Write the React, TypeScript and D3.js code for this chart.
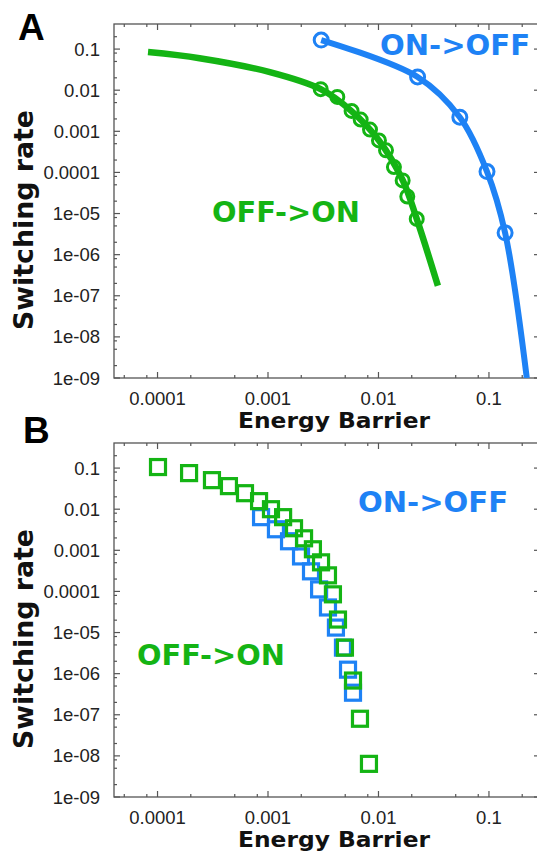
import * as d3 from 'd3';
import React, { useRef, useEffect } from 'react';

const W = 537;
const H = 858;

const green = "#14b414";
const blue = "#1e82f5";

// axis ticks
const xTicks = [1e-4, 1e-3, 1e-2, 1e-1];
const xTickLabels = ["0.0001", "0.001", "0.01", "0.1"];
const yTicks = [1e-1, 1e-2, 1e-3, 1e-4, 1e-5, 1e-6, 1e-7, 1e-8, 1e-9];
const yTickLabels = ["0.1", "0.01", "0.001", "0.0001", "1e-05", "1e-06", "1e-07", "1e-08", "1e-09"];
const minorMults = [2, 5, 8];

// panel A: fitted curves [energy barrier, switching rate]
const offOnFitA: [number, number][] = [
    [8.2e-5, 0.0845], [2.4e-4, 0.06], [1.04e-3, 0.0275], [3.0e-3, 0.0106],
    [5.7e-3, 3.1e-3], [0.0101, 6e-4], [0.0166, 6.4e-5], [0.0222, 7.4e-6], [0.0345, 1.75e-7]
];
const onOffFitA: [number, number][] = [
    [3.03e-3, 0.166], [0.0226, 0.021], [0.0545, 2.2e-3], [0.096, 1.05e-4], [0.14, 3.4e-6], [0.22, 1e-9]
];

// panel A: simulated points
const offOnCirclesA: [number, number][] = [
    [0.0030, 0.0106], [0.00424, 0.00687], [0.00571, 0.00313], [0.0069, 0.00193],
    [0.00838, 0.0011], [0.0101, 6.0e-4], [0.0117, 3.44e-4], [0.0138, 1.35e-4],
    [0.01655, 6.4e-5], [0.01823, 2.6e-5], [0.0222, 7.4e-6]
];
const onOffCirclesA: [number, number][] = [
    [3.03e-3, 0.166], [0.0226, 0.021], [0.0545, 2.2e-3], [0.096, 1.05e-4], [0.14, 3.4e-6]
];

// panel B: points
const offOnSquaresB: [number, number][] = [
    [1.01e-4, 0.106], [1.93e-4, 0.0755], [3.11e-4, 0.0509], [4.43e-4, 0.0364],
    [6.19e-4, 0.0245], [8.3e-4, 0.0157], [1.064e-3, 0.010], [1.37e-3, 6.4e-3],
    [1.72e-3, 3.44e-3], [2.12e-3, 1.96e-3], [2.55e-3, 1.06e-3], [3.02e-3, 5.1e-4],
    [3.49e-3, 2.46e-4], [3.87e-3, 8.5e-5], [4.3e-3, 2.07e-5], [4.97e-3, 4.3e-6],
    [5.88e-3, 6.8e-7], [6.8e-3, 8e-8], [8.2e-3, 6.4e-9]
];
const onOffSquaresB: [number, number][] = [
    [8.65e-4, 6.4e-3], [1.18e-3, 3.25e-3], [1.55e-3, 1.66e-3], [1.99e-3, 7.1e-4],
    [2.45e-3, 3.08e-4], [2.9e-3, 1.12e-4], [3.49e-3, 4.07e-5], [4.12e-3, 1.32e-5],
    [4.77e-3, 4.3e-6], [5.3e-3, 1.25e-6], [5.88e-3, 3.44e-7]
];

const tickFont = "'Liberation Sans', Arial, sans-serif";
const boldFont = "'DejaVu Sans', Verdana, sans-serif";

function drawPanel(svg, top, bottom, id, draw) {
    const left = 114, right = 540;
    var x = d3.scaleLog().domain([Math.pow(10, -4.394), Math.pow(10, -0.538)]).range([left, right]);
    var y = d3.scaleLog().domain([1e-9, Math.pow(10, -0.39)]).range([bottom, top]);

    const g = svg.append("g");

    g.append("clipPath").attr("id", "clip" + id)
        .append("rect")
        .attr("x", left).attr("y", top)
        .attr("width", right - left).attr("height", bottom - top);

    // frame
    g.append("rect")
        .attr("x", left).attr("y", top)
        .attr("width", right - left).attr("height", bottom - top)
        .attr("fill", "none")
        .attr("stroke", "#555")
        .attr("stroke-width", 1.3);

    // ticks on all four sides, pointing inwards
    const [xd0, xd1] = x.domain();
    const [yd0, yd1] = y.domain();
    const xMinor = [], yMinor = [];
    for (let e = -10; e <= 0; e++) {
        minorMults.forEach(m => {
            const v = m * Math.pow(10, e);
            if (v > xd0 && v < xd1) xMinor.push(v);
            if (v > yd0 && v < yd1) yMinor.push(v);
        });
    }
    const tk = g.append("g").attr("stroke", "#555").attr("stroke-width", 1.2);
    const xTickSet = xTicks.map(v => ({ v, len: 6 })).concat(xMinor.map(v => ({ v, len: 3 })));
    const yTickSet = yTicks.map(v => ({ v, len: 6 })).concat(yMinor.map(v => ({ v, len: 3 })));
    xTickSet.forEach(t => {
        tk.append("line").attr("x1", x(t.v)).attr("x2", x(t.v)).attr("y1", bottom).attr("y2", bottom - t.len);
        tk.append("line").attr("x1", x(t.v)).attr("x2", x(t.v)).attr("y1", top).attr("y2", top + t.len);
    });
    yTickSet.forEach(t => {
        tk.append("line").attr("x1", left).attr("x2", left + t.len).attr("y1", y(t.v)).attr("y2", y(t.v));
        tk.append("line").attr("x1", right).attr("x2", right - t.len).attr("y1", y(t.v)).attr("y2", y(t.v));
    });

    // tick labels
    g.append("g").selectAll("text")
        .data(yTicks)
        .join("text")
        .attr("x", 100)
        .attr("y", d => y(d) + 6.5)
        .attr("text-anchor", "end")
        .attr("font-family", tickFont)
        .attr("font-size", 18.5)
        .attr("fill", "#222")
        .text((d, i) => yTickLabels[i]);

    g.append("g").selectAll("text")
        .data(xTicks)
        .join("text")
        .attr("x", d => x(d))
        .attr("y", bottom + 27)
        .attr("text-anchor", "middle")
        .attr("font-family", tickFont)
        .attr("font-size", 18.5)
        .attr("fill", "#222")
        .text((d, i) => xTickLabels[i]);

    // axis titles
    g.append("text")
        .attr("x", 334)
        .attr("y", bottom + 50)
        .attr("text-anchor", "middle")
        .attr("font-family", boldFont)
        .attr("font-weight", "bold")
        .attr("font-size", 22)
        .attr("textLength", 192)
        .attr("lengthAdjust", "spacingAndGlyphs")
        .attr("fill", "#111")
        .text("Energy Barrier");

    const cy = (top + bottom) / 2 + 19;
    g.append("text")
        .attr("transform", "translate(33," + cy + ") rotate(-90)")
        .attr("text-anchor", "middle")
        .attr("font-family", boldFont)
        .attr("font-weight", "bold")
        .attr("font-size", 26)
        .attr("textLength", 220)
        .attr("lengthAdjust", "spacingAndGlyphs")
        .attr("fill", "#111")
        .text("Switching rate");

    const plot = g.append("g").attr("clip-path", "url(#clip" + id + ")");
    draw(plot, x, y);
}

function label(svg, text, xPos, yPos, color, len) {
    svg.append("text")
        .attr("x", xPos)
        .attr("y", yPos)
        .attr("font-family", boldFont)
        .attr("font-weight", "bold")
        .attr("font-size", 28)
        .attr("textLength", len)
        .attr("lengthAdjust", "spacingAndGlyphs")
        .attr("fill", color)
        .text(text);
}

function SwitchingChart() {
    const ref = useRef(null);

    useEffect(() => {
        const svg = d3.select(ref.current);
        svg.selectAll("*").remove();

        // panel A
        drawPanel(svg, 24, 378, "A", (plot, x, y) => {
            const line = d3.line()
                .x(d => x(d[0]))
                .y(d => y(d[1]))
                .curve(d3.curveCatmullRom.alpha(0.5));

            plot.append("path")
                .attr("d", line(offOnFitA))
                .attr("fill", "none")
                .attr("stroke", green)
                .attr("stroke-width", 6.5);
            plot.append("path")
                .attr("d", line(onOffFitA))
                .attr("fill", "none")
                .attr("stroke", blue)
                .attr("stroke-width", 6);

            plot.append("g").selectAll("circle")
                .data(offOnCirclesA)
                .join("circle")
                .attr("cx", d => x(d[0]))
                .attr("cy", d => y(d[1]))
                .attr("r", 6.5)
                .attr("fill", "none")
                .attr("stroke", green)
                .attr("stroke-width", 3);
            plot.append("g").selectAll("circle")
                .data(onOffCirclesA)
                .join("circle")
                .attr("cx", d => x(d[0]))
                .attr("cy", d => y(d[1]))
                .attr("r", 7)
                .attr("fill", "none")
                .attr("stroke", blue)
                .attr("stroke-width", 3);
        });

        // panel B
        drawPanel(svg, 443, 797, "B", (plot, x, y) => {
            const s = 15;
            plot.append("g").selectAll("rect")
                .data(onOffSquaresB)
                .join("rect")
                .attr("x", d => x(d[0]) - s / 2)
                .attr("y", d => y(d[1]) - s / 2)
                .attr("width", s).attr("height", s)
                .attr("fill", "none")
                .attr("stroke", blue)
                .attr("stroke-width", 3.2);
            plot.append("g").selectAll("rect")
                .data(offOnSquaresB)
                .join("rect")
                .attr("x", d => x(d[0]) - s / 2)
                .attr("y", d => y(d[1]) - s / 2)
                .attr("width", s).attr("height", s)
                .attr("fill", "none")
                .attr("stroke", green)
                .attr("stroke-width", 3.2);
        });

        label(svg, "ON->OFF", 380, 55, blue, 150);
        label(svg, "OFF->ON", 212, 222, green, 148);
        label(svg, "ON->OFF", 358, 512, blue, 150);
        label(svg, "OFF->ON", 137, 665, green, 148);

        // panel letters
        svg.append("text").attr("x", 18).attr("y", 40)
            .attr("font-family", "'Liberation Sans', Arial, sans-serif")
            .attr("font-weight", "bold").attr("font-size", 37).attr("fill", "#000")
            .text("A");
        svg.append("text").attr("x", 23).attr("y", 443)
            .attr("font-family", "'Liberation Sans', Arial, sans-serif")
            .attr("font-weight", "bold").attr("font-size", 37).attr("fill", "#000")
            .text("B");
    }, []);

    return (
        <svg ref={ref} width={W} height={H}
            style={{ position: "absolute", left: 0, top: 0, background: "#fff" }}>
        </svg>
    );
}

export default function App() {
    return <SwitchingChart />;
}
